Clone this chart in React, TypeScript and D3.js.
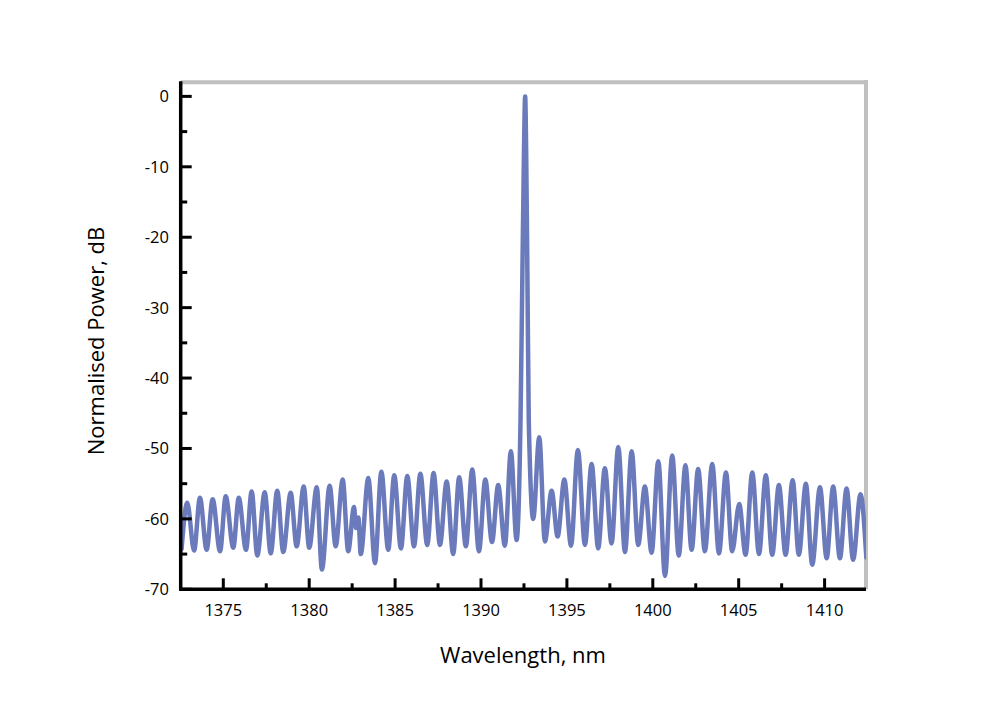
import React from "react";
import * as d3 from "d3";

const wavelength = [
  1372.57, 1372.9, 1373.3, 1373.64, 1374.03, 1374.38, 1374.81, 1375.14, 1375.58, 1375.9,
  1376.32, 1376.65, 1376.98, 1377.41, 1377.76, 1378.14, 1378.49, 1378.92, 1379.27, 1379.68,
  1380.0, 1380.44, 1380.74, 1381.19, 1381.54, 1381.95, 1382.27, 1382.61, 1382.72, 1382.86,
  1383.0, 1383.44, 1383.83, 1384.2, 1384.6, 1384.95, 1385.34, 1385.71, 1386.1, 1386.47,
  1386.87, 1387.24, 1387.61, 1388.0, 1388.38, 1388.73, 1389.12, 1389.49, 1389.88, 1390.25,
  1390.64, 1391.0, 1391.39, 1391.74, 1392.07, 1392.3, 1392.41, 1392.5, 1392.57, 1392.63,
  1392.7, 1392.78, 1393.04, 1393.39, 1393.72, 1394.11, 1394.46, 1394.85, 1395.24, 1395.64,
  1396.05, 1396.44, 1396.82, 1397.21, 1397.6, 1397.99, 1398.38, 1398.77, 1399.15, 1399.54,
  1399.93, 1400.32, 1400.71, 1401.13, 1401.51, 1401.9, 1402.26, 1402.64, 1403.03, 1403.46,
  1403.85, 1404.26, 1404.62, 1405.03, 1405.4, 1405.79, 1406.18, 1406.58, 1406.95, 1407.34,
  1407.73, 1408.14, 1408.5, 1408.91, 1409.28, 1409.73, 1410.12, 1410.5, 1410.89, 1411.28,
  1411.66, 1412.09, 1412.43,
];

const power = [
  -64.3, -57.7, -64.5, -57.0, -64.4, -57.2, -64.6, -56.8, -64.1, -57.0,
  -64.4, -56.1, -65.2, -56.2, -64.9, -56.0, -64.7, -56.3, -63.9, -55.4,
  -64.1, -55.5, -67.2, -55.3, -63.9, -54.4, -64.6, -58.3, -61.3, -59.8,
  -65.0, -54.2, -66.3, -53.3, -64.4, -53.8, -64.2, -53.9, -63.9, -53.6,
  -63.7, -53.5, -63.7, -54.7, -65.0, -54.1, -63.9, -53.0, -64.6, -54.4,
  -63.3, -55.2, -63.8, -50.4, -63.0, -46.0, -25.0, -8.0, 0.0, -8.0,
  -25.0, -46.0, -60.0, -48.4, -63.2, -56.0, -62.5, -54.4, -63.8, -50.2,
  -63.7, -52.2, -64.2, -52.8, -63.5, -49.8, -64.7, -50.4, -63.7, -55.4,
  -64.8, -51.8, -68.1, -51.0, -65.2, -52.4, -64.4, -52.9, -64.6, -52.2,
  -64.9, -53.4, -64.6, -57.9, -65.1, -53.4, -65.0, -53.8, -65.1, -55.2,
  -65.1, -54.5, -65.1, -55.0, -66.5, -55.5, -65.6, -55.4, -65.6, -55.7,
  -65.8, -56.5, -65.5,
];

const xMajorTicks = [1375, 1380, 1385, 1390, 1395, 1400, 1405, 1410];
const xMinorTicks = [1372.5, 1377.5, 1382.5, 1387.5, 1392.5, 1397.5, 1402.5, 1407.5, 1412.5];
const yMajorTicks = [0, -10, -20, -30, -40, -50, -60, -70];
const yMinorTicks = [-5, -15, -25, -35, -45, -55, -65];

const W = 1008;
const H = 708;
const left = 180.7;
const right = 866;
const top = 82.3;
const bottom = 589.3;

const FONT = "'Open Sans', 'Noto Sans', sans-serif";

export default function App() {
  const x = d3.scaleLinear().domain([1372.52, 1412.41]).range([left, right]);
  const y = d3.scaleLinear().domain([-70, 2]).range([bottom, top]);

  const pts = wavelength.map((w, i) => [w, power[i]] as [number, number]);
  const line = d3
    .line<[number, number]>()
    .x((d) => x(d[0]))
    .y((d) => y(d[1]))
    .curve(d3.curveMonotoneX);

  return (
    <svg
      width={W}
      height={H}
      style={{ position: "absolute", left: 0, top: 0, background: "#fff" }}
      fontFamily={FONT}
    >
      <defs>
        <clipPath id="plotclip">
          <rect x={left} y={top - 4} width={right - left} height={bottom - top + 4} />
        </clipPath>
      </defs>

      {/* grey frame top & right */}
      <line x1={left} x2={right + 2} y1={top} y2={top} stroke="#c0c0c0" strokeWidth={4} />
      <line x1={right} x2={right} y1={top - 2} y2={bottom} stroke="#c0c0c0" strokeWidth={4} />

      <path
        d={line(pts) || ""}
        fill="none"
        stroke="#6b7abb"
        strokeWidth={4.5}
        strokeLinejoin="round"
        strokeLinecap="round"
        clipPath="url(#plotclip)"
      />

      {/* x axis */}
      <line x1={left - 1.5} x2={right} y1={bottom} y2={bottom} stroke="#000" strokeWidth={3.5} />
      {xMajorTicks.map((t) => (
        <g key={"xM" + t}>
          <line x1={x(t)} x2={x(t)} y1={bottom} y2={bottom - 11} stroke="#000" strokeWidth={3} />
          <text x={x(t)} y={616} textAnchor="middle" fontSize={16.5} fill="#000">
            {t}
          </text>
        </g>
      ))}
      {xMinorTicks
        .filter((t) => x(t) > left + 2 && x(t) < right - 2)
        .map((t) => (
          <line key={"xm" + t} x1={x(t)} x2={x(t)} y1={bottom} y2={bottom - 6} stroke="#000" strokeWidth={3} />
        ))}

      {/* y axis */}
      <line x1={left} x2={left} y1={top - 1} y2={bottom + 1.5} stroke="#000" strokeWidth={3.5} />
      {yMajorTicks.map((t) => (
        <g key={"yM" + t}>
          <line x1={left} x2={left + 11} y1={y(t)} y2={y(t)} stroke="#000" strokeWidth={3} />
          <text x={169} y={y(t) + 6} textAnchor="end" fontSize={16.5} fill="#000">
            {t}
          </text>
        </g>
      ))}
      {yMinorTicks.map((t) => (
        <line key={"ym" + t} x1={left} x2={left + 6.5} y1={y(t)} y2={y(t)} stroke="#000" strokeWidth={3} />
      ))}

      <text x={523} y={663} textAnchor="middle" fontSize={22} fill="#000">
        Wavelength, nm
      </text>
      <text
        transform={`translate(104, 341) rotate(-90)`}
        textAnchor="middle"
        fontSize={22}
        fill="#000"
      >
        Normalised Power, dB
      </text>
    </svg>
  );
}
